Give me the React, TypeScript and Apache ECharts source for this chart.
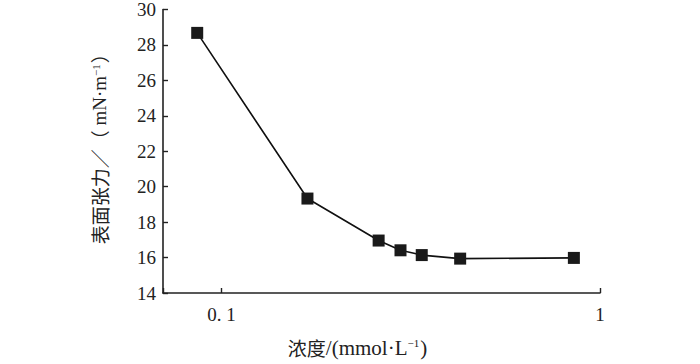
import React, { useEffect, useRef } from "react";
import * as echarts from "echarts";

const concentration = [0.0862, 0.1686, 0.26, 0.297, 0.338, 0.427, 0.853];
const surfaceTension = [28.68, 19.33, 16.96, 16.41, 16.14, 15.94, 15.98];
const xTickLabels: Record<string, string> = { "0.1": "0. 1", "1": "1" };
const xName = "{c|浓度}{l|/(mmol·L}{s|−1}{l|)}";
const yName = "{c|表面张力／（}{l| mN·m}{s|−1}{c|）}";

export default function App() {
  const ref = useRef<HTMLDivElement>(null);
  useEffect(() => {
    if (!ref.current) return;
    const chart = echarts.init(ref.current, null, { renderer: "svg" });
    const serif = "'Liberation Serif', 'DejaVu Serif', serif";
    const cjk = "'Noto Sans CJK SC', 'Liberation Serif', serif";
    const sup = { fontFamily: serif, fontSize: 11, color: "#222", verticalAlign: "top", padding: [0, 1, 0, 0] };
    chart.setOption({
      animation: false,
      backgroundColor: "#ffffff",
      grid: { left: 163, right: 100, top: 5.5, bottom: 71, containLabel: false },
      xAxis: {
        type: "log",
        logBase: 10,
        min: 0.07,
        max: 1,
        name: xName,
        nameLocation: "middle",
        nameGap: 44,
        nameTextStyle: {
          color: "#222",
          padding: [0, 48, 0, 0],
          rich: {
            c: { fontFamily: cjk, fontSize: 19, color: "#222" },
            l: { fontFamily: serif, fontSize: 21, color: "#222" },
            s: sup,
          },
        },
        axisLine: { show: true, lineStyle: { color: "#222", width: 1.6 } },
        axisTick: { show: true, inside: true, length: 5, lineStyle: { color: "#222", width: 1.4 } },
        minorTick: { show: false },
        splitLine: { show: false },
        axisLabel: {
          fontFamily: serif,
          fontSize: 19,
          color: "#222",
          margin: 12,
          formatter: (v: number) => {
            const key = String(Math.round(v * 1000) / 1000);
            return xTickLabels[key] ?? "";
          },
        },
      },
      yAxis: {
        type: "value",
        min: 14,
        max: 30,
        interval: 2,
        name: yName,
        nameLocation: "middle",
        nameGap: 54,
        nameTextStyle: {
          color: "#222",
          padding: [0, 0, 0, 14],
          rich: {
            c: { fontFamily: cjk, fontSize: 19, color: "#222" },
            l: { fontFamily: serif, fontSize: 19, color: "#222" },
            s: sup,
          },
        },
        axisLine: { show: true, lineStyle: { color: "#222", width: 1.6 } },
        axisTick: { show: true, inside: true, length: 5, lineStyle: { color: "#222", width: 1.4 } },
        splitLine: { show: false },
        axisLabel: { fontFamily: serif, fontSize: 19, color: "#222", margin: 7 },
      },
      series: [
        {
          type: "line",
          data: concentration.map((c, i) => [c, surfaceTension[i]]),
          symbol: "rect",
          symbolSize: 12,
          showAllSymbol: true,
          lineStyle: { color: "#111", width: 1.6 },
          itemStyle: { color: "#1a1a1a" },
        },
      ],
    });
    return () => chart.dispose();
  }, []);
  return <div ref={ref} style={{ width: 700, height: 364, position: "absolute", left: 0, top: 0 }} />;
}
